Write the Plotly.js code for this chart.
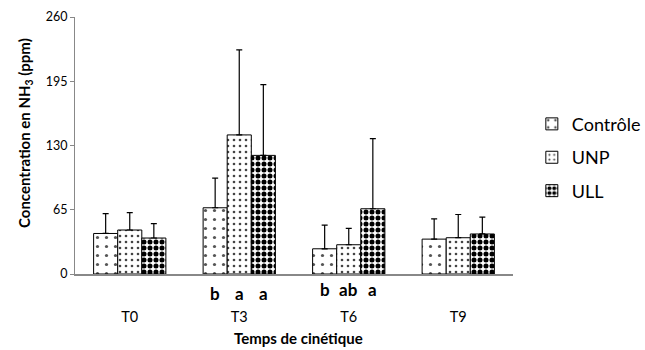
<!DOCTYPE html>
<html><head><meta charset="utf-8">
<script src="https://cdn.plot.ly/plotly-3.0.1.min.js"></script>
<style>html,body{margin:0;padding:0;background:#fff}#chart{width:645px;height:350px}</style>
</head><body><div id="chart"></div>
<script>
const categories = ['T0', 'T3', 'T6', 'T9'];
const seriesNames = ['Contrôle', 'UNP', 'ULL'];
const controle = [41, 67, 25.5, 35.3];
const controleErr = [20, 30, 24, 20.5];
const unp = [44.5, 140.7, 29.6, 36.7];
const unpErr = [17.5, 86, 16.5, 23.5];
const ull = [36.4, 120, 66, 40.5];
const ullErr = [14.5, 71.5, 71, 17];
const letterGroups = ['T3', 'T3', 'T3', 'T6', 'T6', 'T6'];
const letterSeries = [0, 1, 2, 0, 1, 2];
const letterTexts = ['b', 'a', 'a', 'b', 'ab', 'a'];
const yTicks = [0, 65, 130, 195, 260];
const yTitle = 'Concentration en NH<sub>3</sub> (ppm)';
const xTitle = 'Temps de cinétique';

const values = [controle, unp, ull];
const errs = [controleErr, unpErr, ullErr];
const patterns = [
  {shape: '.', fgcolor: '#555', bgcolor: '#fff', size: 9, solidity: 0.1},
  {shape: '.', fgcolor: '#444', bgcolor: '#fff', size: 6, solidity: 0.15},
  {shape: '.', fgcolor: '#000', bgcolor: '#fff', size: 6, solidity: 0.55}
];
const FONT = 'Lato, "Open Sans", sans-serif';

const traces = seriesNames.map((n, i) => ({
  type: 'bar', name: n, x: categories, y: values[i],
  legendgroup: 'g' + i,
  marker: {color: '#fff', pattern: patterns[i], line: {color: '#000', width: 1}},
  error_y: {type: 'data', array: errs[i], symmetric: false, arrayminus: errs[i].map(() => 0),
            color: '#000', thickness: 1.2, width: 3}
}));

const barW = 0.66 / 3;
const annotations = letterTexts.map((t, k) => ({
  xref: 'x', yref: 'paper',
  x: categories.indexOf(letterGroups[k]) + (letterSeries[k] - 1) * barW,
  y: letterGroups[k] === 'T3' ? -0.075 : -0.06,
  yanchor: 'middle', xanchor: 'center', showarrow: false,
  text: '<b>' + t + '</b>', font: {family: FONT, size: 17, color: '#000'}
}));
annotations.push({
  xref: 'paper', yref: 'paper', x: -0.114, y: 0.549, xanchor: 'center', yanchor: 'middle',
  textangle: -90, showarrow: false, text: '<b>' + yTitle + '</b>',
  font: {family: FONT, size: 15, color: '#000'}
});
annotations.push({
  xref: 'paper', yref: 'paper', x: 0.511, y: -0.25, xanchor: 'center', yanchor: 'middle',
  showarrow: false, text: '<b>' + xTitle + '</b>',
  font: {family: FONT, size: 15, color: '#000'}
});

const layout = {
  width: 645, height: 350,
  margin: {l: 75, r: 132, t: 17, b: 76, autoexpand: false},
  paper_bgcolor: '#fff', plot_bgcolor: '#fff',
  barmode: 'group', bargap: 0.34, bargroupgap: 0,
  font: {family: FONT, color: '#000'},
  xaxis: {
    type: 'category', showline: true, linecolor: '#888', linewidth: 1.5,
    ticks: '', showgrid: false, zeroline: false, automargin: false,
    tickfont: {size: 14.5, color: '#000'}, ticklabelstandoff: 29
  },
  yaxis: {
    range: [0, 260], tickvals: yTicks, showline: true, linecolor: '#888', linewidth: 1,
    ticks: 'outside', ticklen: 4, tickcolor: '#888', showgrid: false, zeroline: false, automargin: false,
    tickfont: {size: 12.5, color: '#000'}
  },
  showlegend: true,
  legend: {x: 1.043, y: 0.655, xanchor: 'left', yanchor: 'top', traceorder: 'grouped',
           tracegroupgap: 7, font: {size: 18, color: '#000'}, itemwidth: 30},
  annotations: annotations
};

Plotly.newPlot('chart', traces, layout, {displayModeBar: false, staticPlot: true});
</script></body></html>
